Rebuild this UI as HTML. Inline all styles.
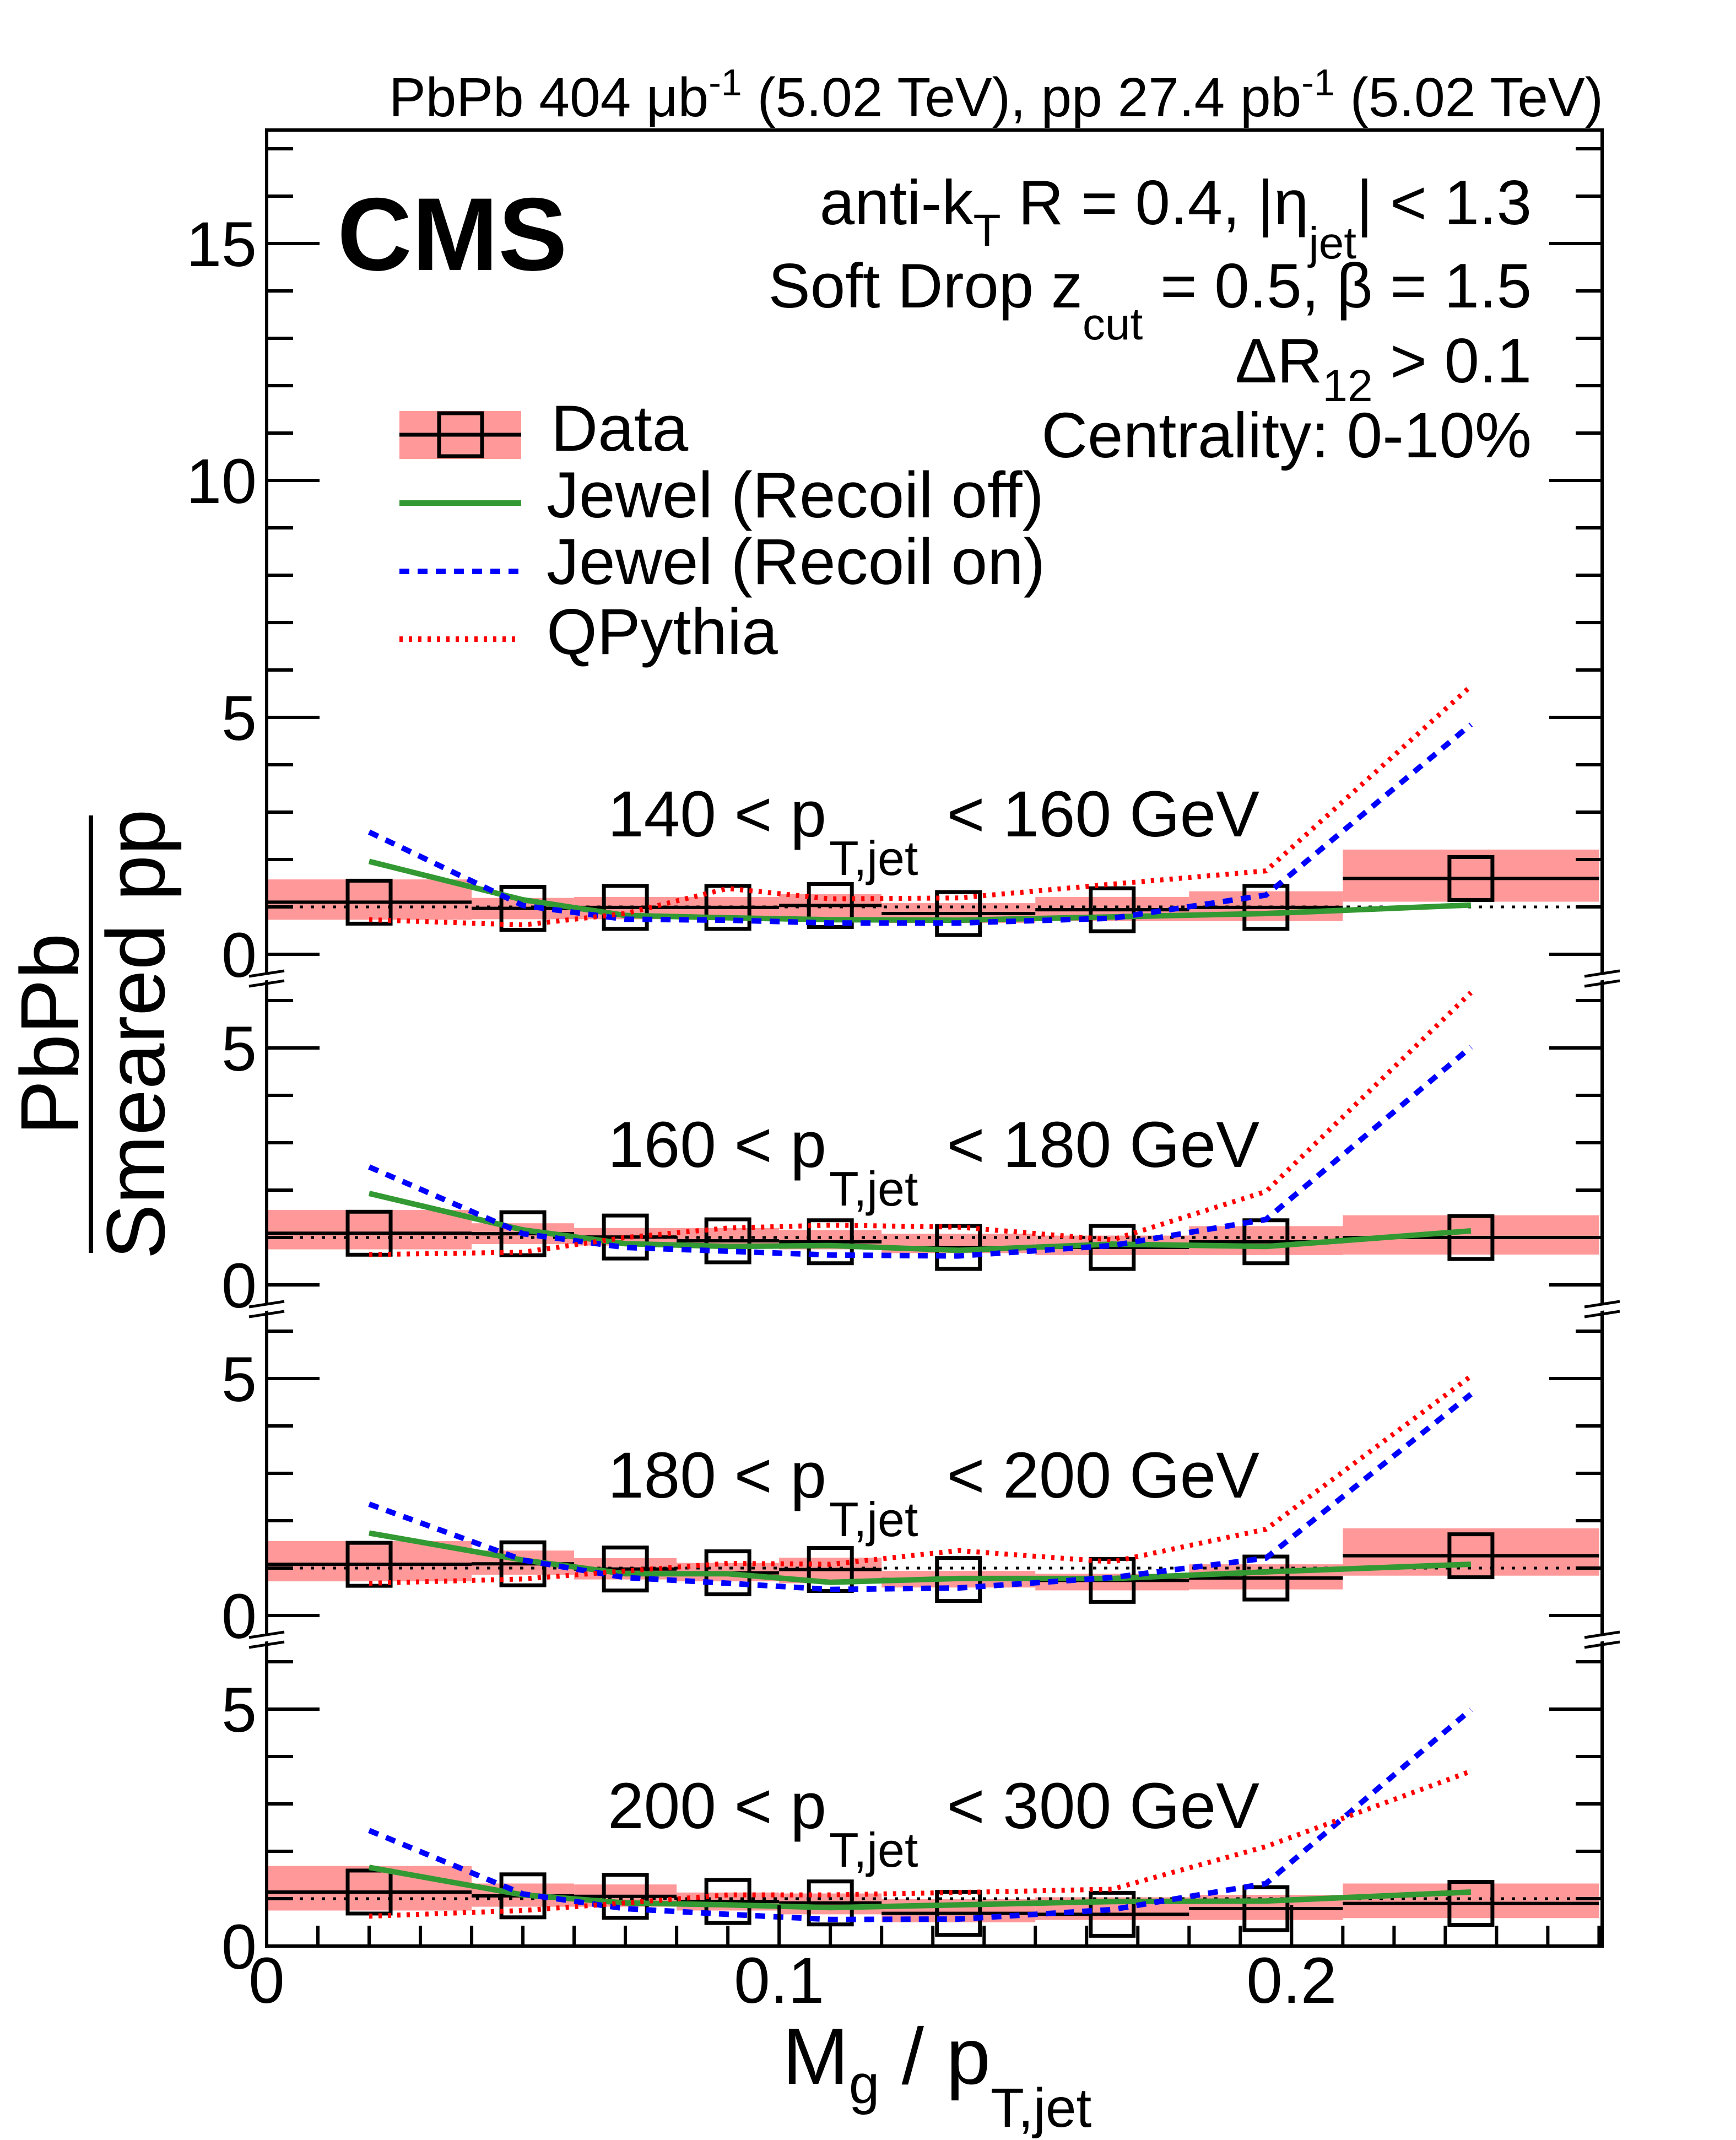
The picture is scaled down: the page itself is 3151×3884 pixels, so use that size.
<!DOCTYPE html>
<html><head><meta charset="utf-8"><style>
html,body{margin:0;padding:0;background:#fff}
svg{display:block}
text{font-family:"Liberation Sans",sans-serif;fill:#000}
</style></head><body>
<svg id="chart" xmlns="http://www.w3.org/2000/svg" width="3151" height="3884" viewBox="0 0 3151 3884">
<g id="bg"></g>
<g id="marks"></g>
<g id="axes"></g>

<text x="2910" y="211" font-size="100" text-anchor="end">PbPb 404 μb<tspan font-size="68" dy="-38">-1</tspan><tspan dy="38"> (5.02 TeV), pp 27.4 pb</tspan><tspan font-size="68" dy="-38">-1</tspan><tspan dy="38"> (5.02 TeV)</tspan></text>
<text x="612" y="490" font-size="188" font-weight="bold">CMS</text>

<text x="2780" y="407" font-size="114" text-anchor="end">anti-k<tspan font-size="82" dy="39">T</tspan><tspan dy="-39"> R = 0.4, |η</tspan><tspan font-size="82" dy="62">jet</tspan><tspan dy="-62">| &lt; 1.3</tspan></text>
<text x="2780" y="558" font-size="114" text-anchor="end">Soft Drop z<tspan font-size="82" dy="58">cut</tspan><tspan dy="-58"> = 0.5, β = 1.5</tspan></text>
<text x="2780" y="694" font-size="114" text-anchor="end">ΔR<tspan font-size="82" dy="34">12</tspan><tspan dy="-34"> &gt; 0.1</tspan></text>
<text x="2780" y="830" font-size="116" text-anchor="end">Centrality: 0-10%</text>

<g>
  <g>
    <rect x="725" y="746" width="221" height="87" fill="#ff9999"/>
    <line x1="725" y1="789" x2="946" y2="789" stroke="#000" stroke-width="7"/>
    <rect x="797" y="750" width="78" height="78" fill="none" stroke="#000" stroke-width="7"/>
    <text x="1000" y="818" font-size="118">Data</text>
  </g>
  <g>
    <line x1="725" y1="913" x2="946" y2="913" stroke="#339933" stroke-width="10"/>
    <text x="992" y="939" font-size="118">Jewel (Recoil off)</text>
  </g>
  <g>
    <line x1="725" y1="1037" x2="946" y2="1037" stroke="#0000ff" stroke-width="10" stroke-dasharray="18,15"/>
    <text x="992" y="1060" font-size="118">Jewel (Recoil on)</text>
  </g>
  <g>
    <line x1="725" y1="1160" x2="946" y2="1160" stroke="#ff0000" stroke-width="10" stroke-dasharray="6,11"/>
    <text x="992" y="1187" font-size="118">QPythia</text>
  </g>
</g>

<g>
  <text x="0" y="0" font-size="150" text-anchor="middle" transform="translate(142,1877) rotate(-90)">PbPb</text>
  <line x1="165" y1="1480" x2="165" y2="2274" stroke="#000" stroke-width="8"/>
  <text x="0" y="0" font-size="150" text-anchor="middle" transform="translate(298,1877) rotate(-90)">Smeared pp</text>
</g>
<text x="1420" y="3782" font-size="145">M<tspan font-size="100" dy="35">g</tspan><tspan dy="-35"> / p</tspan><tspan font-size="100" dy="78">T,jet</tspan></text>

<script>
// ---- data ----
const binEdges = [0, 0.04, 0.06, 0.08, 0.10, 0.12, 0.15, 0.18, 0.21, 0.26];
const binCenters = [0.02, 0.05, 0.07, 0.09, 0.11, 0.135, 0.165, 0.195, 0.235];
const panelLow = [140, 160, 180, 200];
const panelHigh = [160, 180, 200, 300];
const dataP1 = [1.10, 0.97, 0.99, 0.99, 1.03, 0.86, 0.94, 0.99, 1.60];
const dataP2 = [1.09, 1.08, 1.01, 0.93, 0.91, 0.79, 0.79, 0.91, 1.00];
const dataP3 = [1.08, 1.09, 0.98, 0.90, 0.97, 0.76, 0.74, 0.79, 1.26];
const dataP4 = [1.14, 1.06, 1.05, 0.94, 0.91, 0.69, 0.67, 0.79, 0.90];
const sysHiP1 = [1.58, 1.19, 1.21, 1.21, 1.27, 1.08, 1.21, 1.33, 2.21];
const sysLoP1 = [0.73, 0.74, 0.74, 0.76, 0.78, 0.66, 0.70, 0.70, 1.11];
const sysHiP2 = [1.58, 1.30, 1.20, 1.20, 1.16, 1.08, 1.04, 1.24, 1.47];
const sysLoP2 = [0.75, 0.86, 0.83, 0.79, 0.75, 0.67, 0.63, 0.63, 0.64];
const sysHiP3 = [1.57, 1.37, 1.21, 1.11, 1.22, 0.94, 0.88, 1.08, 1.84];
const sysLoP3 = [0.72, 0.86, 0.76, 0.72, 0.68, 0.59, 0.53, 0.55, 0.84];
const sysHiP4 = [1.69, 1.32, 1.30, 1.13, 1.11, 0.99, 1.03, 1.08, 1.32];
const sysLoP4 = [0.75, 0.83, 0.83, 0.75, 0.67, 0.50, 0.55, 0.55, 0.59];
const greenP1 = [1.96, 1.15, 0.82, 0.77, 0.73, 0.72, 0.79, 0.86, 1.04];
const blueP1  = [2.58, 1.03, 0.74, 0.72, 0.66, 0.66, 0.76, 1.25, 4.85];
const redP1   = [0.73, 0.62, 0.86, 1.39, 1.17, 1.19, 1.48, 1.76, 5.66];
const greenP2 = [1.93, 1.16, 0.87, 0.81, 0.83, 0.73, 0.86, 0.81, 1.14];
const blueP2  = [2.49, 1.08, 0.79, 0.71, 0.63, 0.61, 0.83, 1.38, 5.02];
const redP2   = [0.64, 0.69, 1.00, 1.20, 1.26, 1.22, 0.95, 1.97, 6.17];
const greenP3 = [1.74, 1.17, 0.88, 0.88, 0.70, 0.78, 0.78, 0.92, 1.08];
const blueP3  = [2.35, 1.17, 0.80, 0.68, 0.55, 0.58, 0.80, 1.21, 4.67];
const redP3   = [0.68, 0.77, 0.94, 1.10, 1.08, 1.37, 1.13, 1.82, 5.05];
const greenP4 = [1.66, 1.08, 0.91, 0.87, 0.81, 0.87, 0.94, 0.95, 1.14];
const blueP4  = [2.44, 1.10, 0.79, 0.67, 0.56, 0.57, 0.77, 1.32, 4.99];
const redP4   = [0.63, 0.75, 0.91, 1.08, 1.08, 1.13, 1.20, 2.10, 3.69];
const yTicksP1 = [0, 5, 10, 15];
const yTicksLower = [0, 5];
const xTickLabels = ["0", "0.1", "0.2"];
const xTickValues = [0, 0.1, 0.2];

const dataSets = [dataP1, dataP2, dataP3, dataP4];
const hiSets = [sysHiP1, sysHiP2, sysHiP3, sysHiP4];
const loSets = [sysLoP1, sysLoP2, sysLoP3, sysLoP4];
const greenSets = [greenP1, greenP2, greenP3, greenP4];
const blueSets = [blueP1, blueP2, blueP3, blueP4];
const redSets = [redP1, redP2, redP3, redP4];

// ---- layout ----
const NS = "http://www.w3.org/2000/svg";
const X0 = 484, X1 = 2908, XMAX = 0.2606;
const TOP = 236;
const ZEROS = [1732, 2332, 2932, 3532];
const UNIT = 86;
const xs = v => X0 + v / XMAX * (X1 - X0);
const ys = (p, v) => ZEROS[p] - v * UNIT;
function mk(tag, attrs, parent) {
  const e = document.createElementNS(NS, tag);
  for (const k in attrs) e.setAttribute(k, attrs[k]);
  parent.appendChild(e);
  return e;
}
const bg = document.getElementById('bg');
const marks = document.getElementById('marks');
const axes = document.getElementById('axes');

for (let p = 0; p < 4; p++) {
  const g = mk('g', {}, marks);
  
  
  for (let i = 0; i < binCenters.length; i++) {
    const r = mk('rect', {x: xs(binEdges[i]), y: ys(p, hiSets[p][i]), width: xs(binEdges[i+1]) - xs(binEdges[i]), height: (hiSets[p][i] - loSets[p][i]) * UNIT, fill: '#ff9999'}, g);
    
    
  }
  const u = mk('line', {x1: X0, x2: X1, y1: ys(p, 1), y2: ys(p, 1), stroke: '#000', 'stroke-width': 5, 'stroke-dasharray': '6,14'}, g);
  
  
  for (let i = 0; i < binCenters.length; i++) {
    const yv = ys(p, dataSets[p][i]);
    const l = mk('line', {x1: xs(binEdges[i]), x2: xs(binEdges[i+1]), y1: yv, y2: yv, stroke: '#000', 'stroke-width': 6}, g);
    
    
    const m = mk('rect', {x: xs(binCenters[i]) - 39, y: yv - 39, width: 78, height: 78, fill: 'none', stroke: '#000', 'stroke-width': 7}, g);
    
    
  }
  const pts = arr => arr.map((v, i) => xs(binCenters[i]).toFixed(1) + ',' + ys(p, v).toFixed(1)).join(' ');
  const gr = mk('polyline', {points: pts(greenSets[p]), fill: 'none', stroke: '#339933', 'stroke-width': 10}, g);
  
  
  const bl = mk('polyline', {points: pts(blueSets[p]), fill: 'none', stroke: '#0000ff', 'stroke-width': 10, 'stroke-dasharray': '18,15'}, g);
  
  
  const rd = mk('polyline', {points: pts(redSets[p]), fill: 'none', stroke: '#ff0000', 'stroke-width': 9, 'stroke-dasharray': '6,11'}, g);
  
  
  const by = ZEROS[p] - 214;
  const t1 = mk('text', {x: 1103, y: by, 'font-size': 118}, g);
  t1.textContent = panelLow[p] + ' < p';
  
  
  const t2 = mk('text', {x: 1505, y: by + 70, 'font-size': 88}, g);
  t2.textContent = 'T,jet';
  
  
  const t3 = mk('text', {x: 2286, y: by, 'font-size': 118, 'text-anchor': 'end'}, g);
  t3.textContent = '< ' + panelHigh[p] + ' GeV';
  
  
}

const fr = mk('rect', {x: X0, y: TOP, width: X1 - X0, height: ZEROS[3] - TOP, fill: 'none', stroke: '#000', 'stroke-width': 6}, axes);



for (let p = 0; p < 4; p++) {
  const maxU = p === 0 ? 17 : 6;
  for (let v = 0; v <= maxU; v++) {
    const y = ys(p, v);
    const len = v % 5 === 0 ? 96 : 48;
    const tl = mk('line', {x1: X0, x2: X0 + len, y1: y, y2: y, stroke: '#000', 'stroke-width': 6}, axes);
    
    
    const tr = mk('line', {x1: X1, x2: X1 - len, y1: y, y2: y, stroke: '#000', 'stroke-width': 6}, axes);
    
    
  }
  const labs = p === 0 ? yTicksP1 : yTicksLower;
  labs.forEach(v => {
    const t = mk('text', {x: 466, y: ys(p, v) + 41, 'font-size': 115, 'text-anchor': 'end'}, axes);
    t.textContent = String(v);
    
    
  });
  if (p > 0) {
    const by = ZEROS[p - 1] + 44;
    [X0, X1].forEach(xx => {
      const w = mk('polygon', {points: `${xx-30},${by+8} ${xx+30},${by-2} ${xx+30},${by-16} ${xx-30},${by-6}`, fill: '#fff'}, axes);
      
      
      const b1 = mk('line', {x1: xx - 32, y1: by + 14, x2: xx + 32, y2: by + 4, stroke: '#000', 'stroke-width': 5}, axes);
      
      
      const b2 = mk('line', {x1: xx - 32, y1: by - 4, x2: xx + 32, y2: by - 14, stroke: '#000', 'stroke-width': 5}, axes);
      
      
    });
  }
}

for (let k = 0; k <= 26; k++) {
  const v = k / 100;
  const x = xs(v);
  const len = k % 10 === 0 ? 74 : 37;
  const t = mk('line', {x1: x, x2: x, y1: ZEROS[3], y2: ZEROS[3] - len, stroke: '#000', 'stroke-width': 6}, axes);
  
  
}
xTickValues.forEach((v, i) => {
  const t = mk('text', {x: xs(v), y: 3635, 'font-size': 118, 'text-anchor': 'middle'}, axes);
  t.textContent = xTickLabels[i];
  
  
});
</script>
</svg>
</body></html>
